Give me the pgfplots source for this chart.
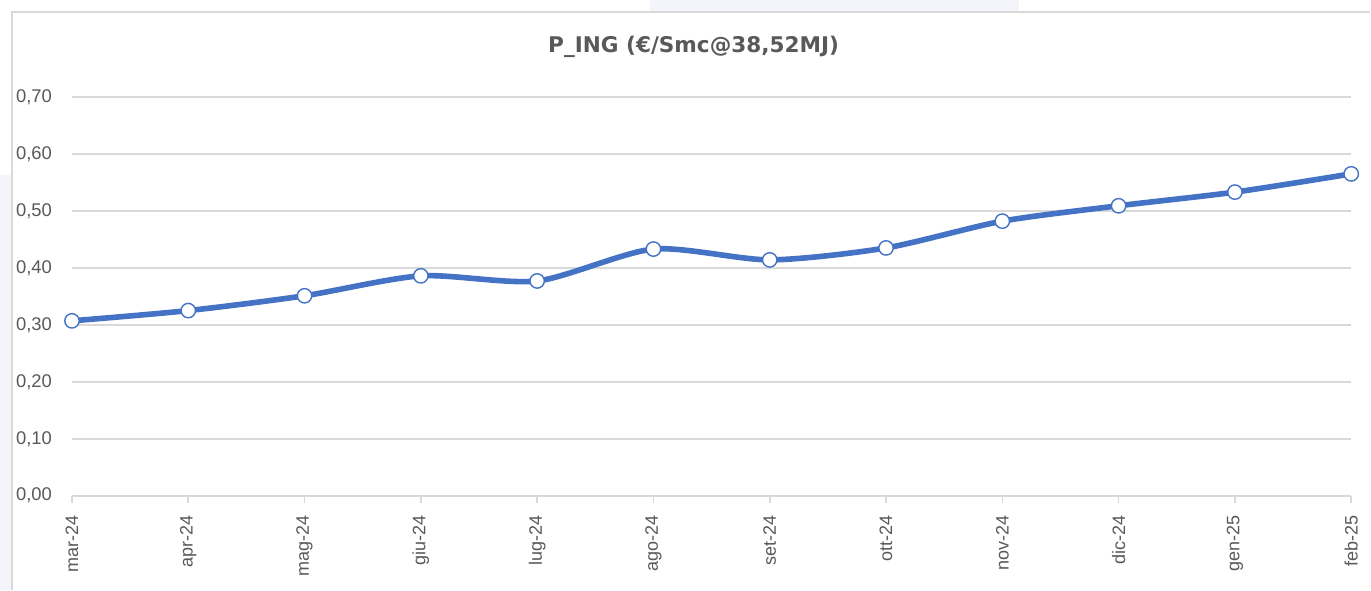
\documentclass[border=0pt]{standalone}
\usepackage{fontspec}
\setmainfont{Liberation Sans}
\newfontfamily\titlefont{DejaVu Sans}
\usepackage{pgfplots}
\pgfplotsset{compat=1.18}
\definecolor{linecol}{HTML}{4472C4}
\definecolor{txt}{HTML}{595959}
\definecolor{gridc}{HTML}{D9D9D9}
\definecolor{framec}{HTML}{D9D9D9}
\definecolor{bgblue}{HTML}{F4F5FB}
\begin{document}
\begin{tikzpicture}
\fill[white] (0pt,0pt) rectangle (685.5pt,-295pt);
\fill[bgblue] (325pt,0pt) rectangle (510pt,-6pt);
\fill[bgblue] (0pt,-87.5pt) rectangle (6pt,-295pt);
\draw[framec, line width=0.8pt] (6pt,-295pt) -- (6pt,-6pt) -- (685.5pt,-6pt);
\node[font=\titlefont\bfseries\fontsize{10.8}{12}\selectfont, text=txt] at (347pt,-23.5pt) {P\_ING (€/Smc@38,52MJ)};
\begin{axis}[
  at={(36pt,-248pt)}, anchor=origin,
  scale only axis, width=640pt, height=199.5pt,
  xmin=0, xmax=11, ymin=0, ymax=0.7,
  clip=false,
  axis lines*=left,
  x axis line style={draw=gridc, line width=0.8pt, -},
  y axis line style={draw=none},
  ytick={0,0.1,...,0.7},
  xtick={0,...,11},
  xticklabels={mar-24,apr-24,mag-24,giu-24,lug-24,ago-24,set-24,ott-24,nov-24,dic-24,gen-25,feb-25},
  xticklabel style={rotate=90, anchor=east, font=\fontsize{9}{10}\selectfont, text=txt, xshift=-3pt},
  yticklabel style={font=\fontsize{9.2}{10}\selectfont, text=txt, xshift=-6.5pt},
  x tick style={draw=gridc, line width=0.8pt},
  major tick length=3.5pt,
  xtick align=outside,
  ytick style={draw=none},
  ymajorgrids, grid style={draw=gridc, line width=0.8pt},
  /pgf/number format/.cd, fixed, fixed zerofill, precision=2, use comma, assume math mode=true,
]
\addplot[linecol, line width=2.8pt, smooth, tension=0.45, mark=*, mark size=3.6pt,
  mark options={fill=white, draw=linecol, line width=0.7pt}]
coordinates {
(0,0.307) (1,0.325) (2,0.351) (3,0.386) (4,0.377) (5,0.433)
(6,0.414) (7,0.435) (8,0.482) (9,0.509) (10,0.533) (11,0.565)
};
\end{axis}
\end{tikzpicture}
\end{document}
